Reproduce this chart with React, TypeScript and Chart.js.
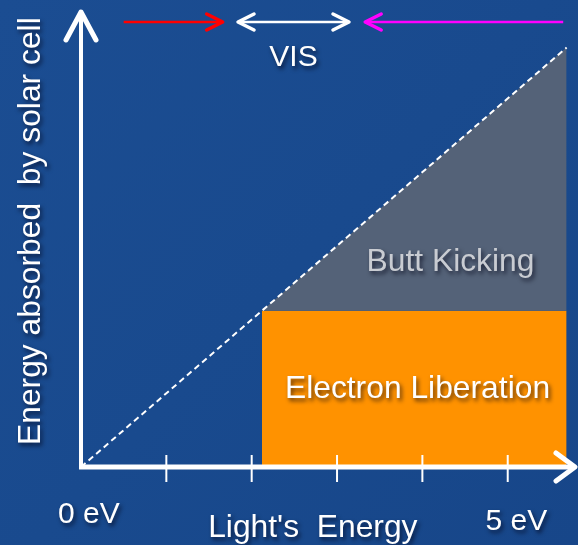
import React, { useEffect, useRef } from "react";
import { Chart, registerables } from "chart.js";

Chart.register(...registerables);

// Data (energy in eV)
const bandGap = 2.12;
const maxEnergy = 5.69;
const diagonalX = [0, maxEnergy];
const diagonalY = [0, maxEnergy];
const excessX = [bandGap, maxEnergy];
const excessY = [bandGap, maxEnergy];
const liberationX = [bandGap, maxEnergy];
const liberationY = [bandGap, bandGap];
const tickValues = [1, 2, 3, 4, 5];
const xLabels = ["0 eV", "Light's  Energy", "5 eV"];
const yTitle = "Energy absorbed  by solar cell";
const regionLabels = ["Butt Kicking", "Electron Liberation"];
const spectrumLabel = "VIS";
// spectrum arrows: [from, to] in eV, arrowheads at "to" (both for VIS)
const redArrow = [0.5, 1.66];
const visArrow = [1.84, 3.14];
const uvArrow = [5.65, 3.33];

const FONT = "'Liberation Sans', Arial, sans-serif";

function pts(xs: number[], ys: number[]) {
  return xs.map((x, i) => ({ x, y: ys[i] }));
}

const decorPlugin = {
  id: "decor",
  beforeDraw(chart: any) {
    const ctx = chart.ctx;
    ctx.save();
    const g = ctx.createLinearGradient(0, 0, chart.width, chart.height);
    g.addColorStop(0, "#1b4d92");
    g.addColorStop(0.5, "#194a8e");
    g.addColorStop(1, "#174689");
    ctx.fillStyle = g;
    ctx.fillRect(0, 0, chart.width, chart.height);
    ctx.restore();
  },
  afterDatasetsDraw(chart: any) {
    const ctx = chart.ctx;
    const xs = chart.scales.x;
    const ys = chart.scales.y;
    const x0 = xs.getPixelForValue(0);
    const y0 = ys.getPixelForValue(0);
    ctx.save();
    ctx.strokeStyle = "#ffffff";
    ctx.lineCap = "round";
    ctx.lineJoin = "round";

    // y axis
    const yTop = ys.getPixelForValue(ys.max) + 2;
    ctx.lineWidth = 4;
    ctx.beginPath();
    ctx.moveTo(x0, y0);
    ctx.lineTo(x0, yTop);
    ctx.stroke();
    ctx.lineWidth = 5;
    ctx.beginPath();
    ctx.moveTo(x0 - 15, yTop + 28);
    ctx.lineTo(x0, yTop);
    ctx.lineTo(x0 + 15, yTop + 28);
    ctx.stroke();

    // x axis
    const xRight = xs.getPixelForValue(xs.max) - 1;
    ctx.lineWidth = 5;
    ctx.lineCap = "butt";
    ctx.beginPath();
    ctx.moveTo(x0 - 2, y0);
    ctx.lineTo(xRight, y0);
    ctx.stroke();
    ctx.lineCap = "round";
    ctx.beginPath();
    ctx.moveTo(xRight - 19, y0 - 14);
    ctx.lineTo(xRight, y0);
    ctx.lineTo(xRight - 19, y0 + 14);
    ctx.stroke();

    // ticks
    ctx.lineWidth = 2;
    ctx.lineCap = "butt";
    tickValues.forEach((v) => {
      const px = xs.getPixelForValue(v);
      ctx.beginPath();
      ctx.moveTo(px, y0 - 12);
      ctx.lineTo(px, y0 + 15);
      ctx.stroke();
    });

    // spectrum arrows
    const ay = 22;
    const drawArrow = (a: number[], color: string, both: boolean) => {
      const p1 = xs.getPixelForValue(a[0]);
      const p2 = xs.getPixelForValue(a[1]);
      const dir = p2 > p1 ? 1 : -1;
      ctx.strokeStyle = color;
      ctx.lineWidth = 2.5;
      ctx.lineCap = "butt";
      ctx.beginPath();
      ctx.moveTo(p1, ay);
      ctx.lineTo(p2 - dir * 2, ay);
      ctx.stroke();
      ctx.lineWidth = 3.5;
      ctx.lineCap = "round";
      ctx.beginPath();
      ctx.moveTo(p2 - dir * 16, ay - 8);
      ctx.lineTo(p2, ay);
      ctx.lineTo(p2 - dir * 16, ay + 8);
      ctx.stroke();
      if (both) {
        ctx.beginPath();
        ctx.moveTo(p1 + dir * 16, ay - 8);
        ctx.lineTo(p1, ay);
        ctx.lineTo(p1 + dir * 16, ay + 8);
        ctx.stroke();
      }
    };
    drawArrow(redArrow, "#ff0000", false);
    drawArrow(visArrow, "#ffffff", true);
    drawArrow(uvArrow, "#ff00ff", false);

    // texts
    ctx.font = `30px ${FONT}`;
    ctx.shadowColor = "rgba(0,0,20,0.65)";
    ctx.shadowOffsetX = 2;
    ctx.shadowOffsetY = 3;
    ctx.shadowBlur = 4;
    ctx.fillStyle = "#ffffff";
    ctx.textBaseline = "alphabetic";
    ctx.textAlign = "center";
    ctx.fillText(spectrumLabel, xs.getPixelForValue((visArrow[0] + visArrow[1]) / 2), 66);

    ctx.textAlign = "left";
    ctx.fillText(xLabels[0], x0 - 23, 523);
    ctx.fillText(xLabels[2], xs.getPixelForValue(4.74), 530);
    ctx.font = `31.8px ${FONT}`;
    ctx.fillText(xLabels[1], xs.getPixelForValue(1.49), 537);

    // region labels
    ctx.textAlign = "center";
    ctx.fillStyle = "#c9ccd2";
    ctx.fillText(regionLabels[0], 450.5, ys.getPixelForValue(2.66));
    ctx.fillStyle = "#ffffff";
    ctx.fillText(regionLabels[1], 417.5, ys.getPixelForValue(0.93));

    // y title
    ctx.save();
    ctx.translate(40, 445);
    ctx.rotate(-Math.PI / 2);
    ctx.textAlign = "left";
    ctx.fillText(yTitle, 0, 0);
    ctx.restore();

    ctx.restore();
  },
};

export default function App() {
  const ref = useRef<HTMLCanvasElement | null>(null);
  useEffect(() => {
    const canvas = ref.current;
    if (!canvas) return;
    const chart = new Chart(canvas, {
      type: "scatter",
      data: {
        datasets: [
          {
            label: "Electron Liberation",
            data: pts(liberationX, liberationY),
            showLine: true,
            borderWidth: 0,
            borderColor: "rgba(0,0,0,0)",
            backgroundColor: "#ff9200",
            pointRadius: 0,
            fill: "origin",
            order: 3,
          },
          {
            label: "Butt Kicking",
            data: pts(excessX, excessY),
            showLine: true,
            borderWidth: 0,
            borderColor: "rgba(0,0,0,0)",
            backgroundColor: "#546278",
            pointRadius: 0,
            fill: { value: bandGap },
            order: 2,
          },
          {
            label: "Photon energy",
            data: pts(diagonalX, diagonalY),
            showLine: true,
            borderWidth: 2,
            borderColor: "#ffffff",
            borderDash: [6, 4],
            pointRadius: 0,
            fill: false,
            order: 1,
          },
        ],
      },
      options: {
        animation: false,
        responsive: false,
        maintainAspectRatio: false,
        layout: { padding: { left: 81, right: 2, top: 10, bottom: 78 } },
        plugins: {
          legend: { display: false },
          tooltip: { enabled: false },
          title: { display: false },
        },
        scales: {
          x: { type: "linear", min: 0, max: 5.8, display: false },
          y: { type: "linear", min: 0, max: 6.2, display: false },
        },
      },
      plugins: [decorPlugin],
    });
    return () => chart.destroy();
  }, []);
  return (
    <div style={{ position: "fixed", left: 0, top: 0, width: 578, height: 545 }}>
      <canvas ref={ref} width={578} height={545} style={{ display: "block" }} />
    </div>
  );
}
